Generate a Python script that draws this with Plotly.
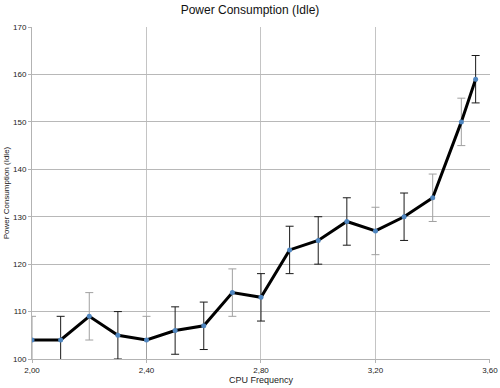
import plotly.graph_objects as go

freq = [2.0, 2.1, 2.2, 2.3, 2.4, 2.5, 2.6, 2.7, 2.8, 2.9, 3.0, 3.1, 3.2, 3.3, 3.4, 3.5, 3.55]
power = [104, 104, 109, 105, 104, 106, 107, 114, 113, 123, 125, 129, 127, 130, 134, 150, 159]
err = [5] * len(freq)
# error bar rendered dark (1) or light (0) in the reference
dark = [0, 1, 0, 1, 0, 1, 1, 0, 1, 1, 1, 1, 0, 1, 0, 0, 1]

x_tickvals = [2.0, 2.4, 2.8, 3.2, 3.6]
x_ticktext = ["2,00", "2,40", "2,80", "3,20", "3,60"]
y_tickvals = [100, 110, 120, 130, 140, 150, 160, 170]

FONT = "Liberation Sans, Arial, sans-serif"

fig = go.Figure()
for flag, col in [(0, "#a0a0a0"), (1, "#1a1a1a")]:
    xs = [f for f, d in zip(freq, dark) if d == flag]
    ys = [p for p, d in zip(power, dark) if d == flag]
    es = [e for e, d in zip(err, dark) if d == flag]
    fig.add_trace(go.Scatter(
        x=xs, y=ys, mode="markers",
        marker=dict(size=1, opacity=0),
        error_y=dict(type="data", array=es, visible=True, color=col,
                     thickness=1, width=4),
        showlegend=False, hoverinfo="skip",
    ))

fig.add_trace(go.Scatter(
    x=freq, y=power, mode="lines+markers",
    line=dict(color="black", width=3),
    marker=dict(color="#4f86c0", size=5),
    showlegend=False,
))

fig.update_layout(
    width=500, height=388,
    margin=dict(l=32, r=10, t=27, b=29),
    paper_bgcolor="white", plot_bgcolor="white",
    title=dict(text="Power Consumption (Idle)", x=0.5, xanchor="center",
               y=0.974, yanchor="middle",
               font=dict(family=FONT, size=12, color="#111")),
    font=dict(family=FONT, color="#222"),
    xaxis=dict(
        range=[1.9999, 3.6002], tickvals=x_tickvals, ticktext=x_ticktext,
        showgrid=True, gridcolor="#c4c4c4", gridwidth=1,
        ticks="outside", ticklen=3, tickcolor="#b3b3b3",
        showline=True, linecolor="#b3b3b3", zeroline=False,
        tickfont=dict(size=8, color="#222"),
        title=dict(text="CPU Frequency", font=dict(size=9, color="#222"), standoff=2),
        automargin=False,
    ),
    yaxis=dict(
        range=[100, 170.01], tickvals=y_tickvals,
        showgrid=True, gridcolor="#b8b8b8", gridwidth=1,
        ticks="outside", ticklen=3, tickcolor="#b3b3b3",
        showline=True, linecolor="#b3b3b3", zeroline=False,
        tickfont=dict(size=8, color="#222"),
        title=dict(text="Power Consumption (Idle)", font=dict(size=8, color="#222"), standoff=2),
        automargin=False,
    ),
)

fig.write_html("out.html", config={"displayModeBar": False},
               post_script="document.body.style.margin='0';")
